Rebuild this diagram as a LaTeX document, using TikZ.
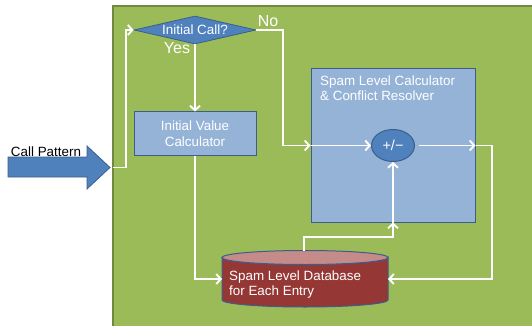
\documentclass[tikz,border=0pt]{standalone}
\usepackage{fontspec}
\setmainfont{Liberation Sans}
\usetikzlibrary{shapes.geometric,arrows.meta}

\definecolor{panelfill}{HTML}{9BBB59}
\definecolor{panelrim}{HTML}{71893F}
\definecolor{deepblue}{HTML}{4F81BD}
\definecolor{bluerim}{HTML}{3B5E8C}
\definecolor{paleblue}{HTML}{95B3D7}
\definecolor{dbbody}{HTML}{953735}
\definecolor{dbtop}{HTML}{C48B89}

\tikzset{
  lbl/.style={text=white, font=\fontsize{13.4}{14.5}\selectfont, inner sep=0pt},
  decision/.style={diamond, fill=deepblue, draw=bluerim, line width=0.8pt,
    minimum width=122pt, minimum height=28pt, aspect=4.36, inner sep=0pt,
    lbl},
  procbox/.style={rectangle, fill=paleblue, draw=bluerim, line width=1pt,
    inner sep=0pt, lbl, align=center},
  sumnode/.style={ellipse, fill=deepblue, draw=bluerim, line width=1pt,
    minimum width=43pt, minimum height=32pt, inner sep=0pt, text=white,
    font=\fontsize{14.5}{15}\selectfont},
  flow/.style={draw=white, line width=1.9pt,
    -{Straight Barb[length=4.5pt,width=10pt,line width=1.9pt]}},
  wire/.style={draw=white, line width=1.9pt},
  branch/.style={text=white, font=\fontsize{16}{16}\selectfont, inner sep=0pt},
}

\begin{document}
\begin{tikzpicture}[x=1pt,y=-1pt]
\useasboundingbox (0,0) rectangle (532,326);

% green panel
\fill[panelfill] (113,6) rectangle (534,328);
\draw[panelrim, line width=1.2pt] (113,328) -- (113,6) -- (534,6);

% incoming call pattern arrow
\filldraw[fill=deepblue, draw=bluerim, line width=0.8pt]
  (8,157) -- (87,157) -- (87,146) -- (110,167.5) -- (87,189) -- (87,177) -- (8,177) -- cycle;
\node[font=\fontsize{13.4}{14}\selectfont, inner sep=0pt] (cplabel) at (46,152) {Call Pattern};
\coordinate (entry) at (113,167.5);
\coordinate (entryturn) at (126,167.5);

% flowchart blocks
\node[decision] (dec) at (195,30) {Initial Call?};
\node[procbox, minimum width=122pt, minimum height=43pt] (ivc) at (195,133.5)
  {Initial Value\\[1pt]Calculator};
\node[procbox, minimum width=164pt, minimum height=153pt] (calc) at (393,145.5) {};
\node[lbl, anchor=north west, align=left, font=\fontsize{13.4}{14.7}\selectfont]
  (calctext) at (320,75.5) {Spam Level Calculator\\\& Conflict Resolver};
\node[sumnode] (sum) at (393,145.5) {+/\raisebox{0.5pt}{−}};

% database cylinder
\filldraw[fill=dbbody, draw=bluerim, line width=1pt]
  (222,257.5) -- (222,300) arc[start angle=180, end angle=0, x radius=83, y radius=7]
  -- (388,257.5) arc[start angle=0, end angle=180, x radius=83, y radius=7] -- cycle;
\filldraw[fill=dbtop, draw=bluerim, line width=1pt]
  (305,257.5) ellipse [x radius=83, y radius=7];
\node[lbl, anchor=north west, align=left, font=\fontsize{13.4}{15}\selectfont]
  (dbtext) at (229,271) {Spam Level Database\\for Each Entry};
\coordinate (dbW) at (222,279);
\coordinate (dbE) at (388,279);
\coordinate (dbT) at (304,250.5);

% branch labels
\node[branch] (yes) at (177,48) {Yes};
\node[branch] (no) at (268,21.5) {No};

% connectors
\draw[wire] (entry) -- (entryturn);
\draw[flow] (entryturn) |- (dec.west);
\draw[flow] (dec.south) -- (ivc.north);
\coordinate (noturn) at (283,30);
\draw[flow] (dec.east) -- (noturn) |- (calc.west);
\draw[flow] (calc.west) -- (sum.west);
\draw[flow, shorten <=4pt] (sum.east) -- (calc.east);
\coordinate (outturn) at (492,145.5);
\draw[flow] (calc.east) -- (outturn) |- (dbE);
\draw[flow] (ivc.south) |- (dbW);
\coordinate (dbturn) at (393,237);
\draw[flow] (dbT) |- (dbturn) -- (calc.south);
\draw[flow] (calc.south) -- (sum.south);
\end{tikzpicture}
\end{document}
